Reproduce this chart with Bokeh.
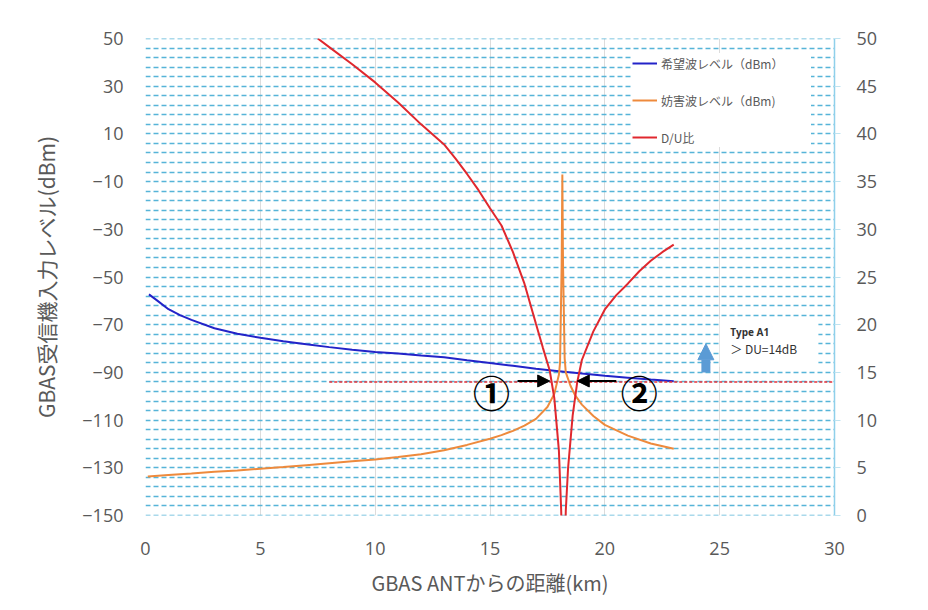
import numpy as np
from bokeh.plotting import figure
from bokeh.models import (Range1d, LinearAxis, FixedTicker, Legend, LegendItem,
                          Label, Arrow, NormalHead, BoxAnnotation)
from bokeh.embed import file_html
from bokeh.resources import INLINE

# ---- data ----
dist_desired = [0.15, 0.5, 1, 1.5, 2, 3, 4, 5, 6, 7, 8, 9, 10, 11, 12, 13,
                14, 15, 16, 17, 18, 19, 20, 21, 22, 23]
level_desired = [-57.3, -59.8, -63.5, -66.0, -68.0, -71.5, -73.8, -75.5, -76.9,
                 -78.2, -79.4, -80.5, -81.4, -82.1, -82.9, -83.6, -84.9, -86.1,
                 -87.2, -88.5, -89.5, -90.5, -91.4, -92.2, -93.0, -93.7]

dist_undesired = [0.1, 1, 2, 3, 4, 5, 6, 7, 8, 9, 10, 11, 12, 13, 14, 15, 15.5,
                  16, 16.5, 17, 17.5, 17.8, 18.0, 18.05, 18.12, 18.15, 18.18,
                  18.25, 18.3, 18.5, 18.7, 19, 19.5, 20, 21, 22, 23]
level_undesired = [-133.6, -133.0, -132.4, -131.7, -131.1, -130.4, -129.7, -128.9,
                   -128.1, -127.3, -126.5, -125.5, -124.3, -122.6, -120.4, -117.8,
                   -116.3, -114.5, -112.3, -109.5, -104.5, -99.0, -91.0, -86.0,
                   -45.0, -7.0, -45.0, -84.0, -90.0, -95.5, -99.5, -103.5, -108.3,
                   -112.0, -116.5, -119.8, -122.0]

dist_du = [7.5, 8, 9, 10, 11, 12, 13, 13.5, 14, 14.5, 15, 15.5, 16, 16.5, 17,
           17.3, 17.6, 17.8, 18.0, 18.1, 18.2, 18.3, 18.4, 18.6, 18.8, 19.0,
           19.5, 20, 20.5, 21, 21.5, 22, 22.5, 23]
du_ratio = [50.0, 49.1, 47.3, 45.4, 43.3, 41.0, 38.9, 37.4, 35.8, 34.1, 32.2,
            30.4, 27.6, 24.3, 20.1, 17.6, 15.2, 12.3, 6.8, 0.5, -10.0, 0.5, 5.0,
            10.5, 14.0, 16.3, 19.3, 21.6, 23.1, 24.3, 25.6, 26.7, 27.6, 28.4]

threshold_dist = [8, 30]
threshold_du = [14, 14]

x_ticks = [0, 5, 10, 15, 20, 25, 30]
left_ticks = [-150, -130, -110, -90, -70, -50, -30, -10, 10, 30, 50]
grid_du = list(range(0, 51, 1))
right_ticks = [0, 5, 10, 15, 20, 25, 30, 35, 40, 45, 50]

series_labels = ["希望波レベル（dBm）", "妨害波レベル（dBm)", "D/U比"]

TXT = "#595959"
CJK = "Noto Sans CJK JP"
NUM = "Open Sans"
GRIDBLUE = "#56b4d8"

p = figure(width=928, height=610, output_backend="svg", toolbar_location=None,
           x_range=Range1d(0, 30), y_range=Range1d(-150, 50),
           min_border_left=145, min_border_right=94, min_border_top=38,
           min_border_bottom=95)
p.outline_line_color = None
p.background_fill_color = "white"
p.border_fill_color = "white"
p.extra_y_ranges = {"du": Range1d(0, 50)}

# x axis
xt = FixedTicker(ticks=x_ticks)
p.xaxis.ticker = xt
p.xgrid.ticker = xt
p.xaxis.axis_line_color = None
p.xaxis.major_tick_line_color = None
p.xaxis.minor_tick_line_color = None
p.xaxis.major_label_standoff = 20
p.xaxis.major_label_text_font = NUM
p.xaxis.major_label_text_font_size = "18px"
p.xaxis.major_label_text_color = TXT
p.xaxis.axis_label = "GBAS ANTからの距離(km)"
p.xaxis.axis_label_text_font = CJK
p.xaxis.axis_label_text_font_size = "20px"
p.xaxis.axis_label_text_font_style = "normal"
p.xaxis.axis_label_text_color = TXT
p.xaxis.axis_label_standoff = 10
p.xgrid.grid_line_color = "#dcdcdc"
p.xgrid.grid_line_width = 1

# left axis
p.yaxis.ticker = FixedTicker(ticks=left_ticks)
p.yaxis.axis_line_color = None
p.yaxis.major_tick_line_color = None
p.yaxis.minor_tick_line_color = None
p.yaxis.major_tick_in = 0
p.yaxis.major_tick_out = 0
p.yaxis.major_label_standoff = 22
p.yaxis.major_label_text_font = NUM
p.yaxis.major_label_text_font_size = "18px"
p.yaxis.major_label_text_color = TXT
p.yaxis.axis_label = "GBAS受信機入力レベル(dBm)"
p.yaxis.axis_label_text_font = CJK
p.yaxis.axis_label_text_font_size = "21px"
p.yaxis.axis_label_text_font_style = "normal"
p.yaxis.axis_label_text_color = TXT
p.yaxis.axis_label_standoff = 18
p.ygrid.visible = False

# dashed horizontal grid, one line every 1 dB of D/U (= 4 dBm)
p.hspan(y=grid_du, y_range_name="du", line_color=GRIDBLUE, line_width=1.6,
        line_dash="5 3")

# right axis
ra = LinearAxis(y_range_name="du", ticker=FixedTicker(ticks=right_ticks))
ra.axis_line_color = "#8fd0ea"
ra.axis_line_width = 1.5
ra.major_tick_line_color = "#bfe3f0"
ra.major_tick_out = 6
ra.major_tick_in = 0
ra.minor_tick_line_color = None
ra.major_label_standoff = 16
ra.major_label_text_font = NUM
ra.major_label_text_font_size = "18px"
ra.major_label_text_color = TXT
p.add_layout(ra, "right")

# series
r_des = p.line(dist_desired, level_desired, line_color="#2323c8", line_width=2)
r_und = p.line(dist_undesired, level_undesired, line_color="#ee8a3c", line_width=2)
r_du = p.line(dist_du, du_ratio, line_color="#e0282e", line_width=2, y_range_name="du")
p.line(threshold_dist, threshold_du, line_color="#e8323a", line_width=1.5,
       line_dash="3 2", y_range_name="du")

legend = Legend(items=[LegendItem(label=series_labels[0], renderers=[r_des]),
                       LegendItem(label=series_labels[1], renderers=[r_und]),
                       LegendItem(label=series_labels[2], renderers=[r_du])],
                location=(487, 368))
legend.margin = 0
legend.padding = 10
legend.spacing = 17
legend.glyph_width = 25
legend.glyph_height = 20
legend.label_height = 20
legend.label_width = 150
legend.label_standoff = 4
legend.label_text_font = CJK
legend.label_text_font_size = "12px"
legend.label_text_color = TXT
legend.border_line_color = None
legend.background_fill_color = "white"
legend.background_fill_alpha = 1.0
p.add_layout(legend)

# annotation box "Type A1"
p.add_layout(BoxAnnotation(left=25.0, right=29.3, bottom=15.6, top=20.6,
                           y_range_name="du", fill_color="white", fill_alpha=1.0,
                           line_color=None))
p.add_layout(Label(x=25.46, y=19.2, y_range_name="du", text="Type A1",
                   text_font=NUM, text_font_size="10px", text_font_style="bold",
                   text_color="#333333", text_baseline="middle"))
p.add_layout(Label(x=25.46, y=17.5, y_range_name="du", text="＞ DU=14dB",
                   text_font=CJK, text_font_size="12px", text_color="#333333",
                   text_baseline="middle"))
p.add_layout(Arrow(x_start=24.4, y_start=15.0, x_end=24.4, y_end=18.0,
                   y_range_name="du", line_color="#5b9bd5", line_width=9,
                   end=NormalHead(size=16, fill_color="#5b9bd5", line_color="#5b9bd5")))

# arrows and circled markers
p.add_layout(Arrow(x_start=16.2, y_start=14.1, x_end=17.6, y_end=14.1,
                   y_range_name="du", line_color="black", line_width=2,
                   end=NormalHead(size=12, fill_color="black", line_color="black")))
p.add_layout(Arrow(x_start=20.5, y_start=14.1, x_end=18.8, y_end=14.1,
                   y_range_name="du", line_color="black", line_width=2,
                   end=NormalHead(size=12, fill_color="black", line_color="black")))
p.add_layout(Label(x=15.07, y=12.9, y_range_name="du", text="①", text_font=CJK,
                   text_font_size="37px", text_font_style="bold", text_color="black",
                   text_align="center", text_baseline="middle"))
p.add_layout(Label(x=21.5, y=12.9, y_range_name="du", text="②", text_font=CJK,
                   text_font_size="37px", text_font_style="bold", text_color="black",
                   text_align="center", text_baseline="middle"))

# right axis title (reads bottom to top)
p.add_layout(Label(x=33.1, y=25.0, y_range_name="du", text="DU比", text_font=CJK,
                   text_font_size="19px", text_color=TXT, angle=np.pi / 2,
                   text_align="center", text_baseline="middle"))

open("out.html", "w").write(file_html(p, INLINE))
